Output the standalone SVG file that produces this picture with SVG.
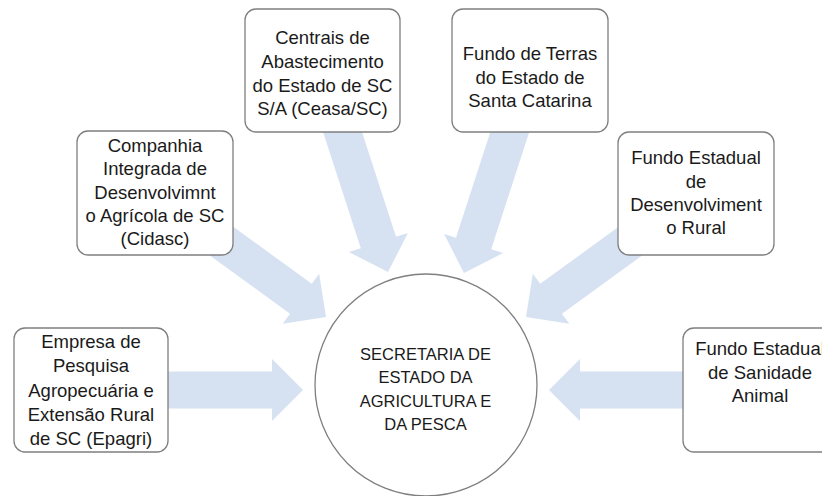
<svg xmlns="http://www.w3.org/2000/svg" width="822" height="496" viewBox="0 0 822 496">
<style>
.box{fill:#ffffff;stroke:#7f7f7f;stroke-width:1.3}
.t{font-family:"Liberation Sans",Arial,sans-serif;font-size:18.5px;fill:#1a1a1a;text-anchor:middle}
.c{font-family:"Liberation Sans",Arial,sans-serif;font-size:16.5px;fill:#1a1a1a;text-anchor:middle}
.arr{fill:#d6e2f2}
</style>
<defs>
<polygon id="blk" points="-160,-18.5 -31,-18.5 -31,-31 0,0 -31,31 -31,18.5 -160,18.5"/>
</defs>
<g id="connectors">
<use href="#blk" class="arr" transform="translate(303,390)"/>
<use href="#blk" class="arr" transform="translate(549,390) rotate(180)"/>
<use href="#blk" class="arr" transform="translate(326,317) rotate(36)"/>
<use href="#blk" class="arr" transform="translate(526,317) rotate(144)"/>
<use href="#blk" class="arr" transform="translate(388,272) rotate(72)"/>
<use href="#blk" class="arr" transform="translate(464,273) rotate(108)"/>
</g>
<g id="epagri">
<rect class="box" x="14" y="328" width="154" height="124" rx="11"/>
<text class="t" x="91" y="348">Empresa de</text>
<text class="t" x="91" y="372">Pesquisa</text>
<text class="t" x="91" y="397">Agropecuária e</text>
<text class="t" x="91" y="421">Extensão Rural</text>
<text class="t" x="91" y="445">de SC (Epagri)</text>
</g>
<g id="cidasc">
<rect class="box" x="77" y="131" width="156" height="124" rx="11"/>
<text class="t" x="155" y="152">Companhia</text>
<text class="t" x="155" y="175">Integrada de</text>
<text class="t" x="155" y="199">Desenvolvimnt</text>
<text class="t" x="155" y="222">o Agrícola de SC</text>
<text class="t" x="155" y="245">(Cidasc)</text>
</g>
<g id="ceasa">
<rect class="box" x="245" y="9" width="155" height="123" rx="11"/>
<text class="t" x="322.5" y="44">Centrais de</text>
<text class="t" x="322.5" y="68">Abastecimento</text>
<text class="t" x="322.5" y="92">do Estado de SC</text>
<text class="t" x="322.5" y="115">S/A (Ceasa/SC)</text>
</g>
<g id="fundo-terras">
<rect class="box" x="452" y="9" width="156" height="123" rx="11"/>
<text class="t" x="530" y="60">Fundo de Terras</text>
<text class="t" x="530" y="84">do Estado de</text>
<text class="t" x="530" y="107">Santa Catarina</text>
</g>
<g id="fundo-rural">
<rect class="box" x="618" y="132" width="156" height="123" rx="11"/>
<text class="t" x="696" y="164">Fundo Estadual</text>
<text class="t" x="696" y="188">de</text>
<text class="t" x="696" y="211">Desenvolviment</text>
<text class="t" x="696" y="234">o Rural</text>
</g>
<g id="fundo-sanidade">
<rect class="box" x="683" y="328" width="156" height="124" rx="11"/>
<text class="t" x="760" y="355">Fundo Estadual</text>
<text class="t" x="760" y="379">de Sanidade</text>
<text class="t" x="760" y="402">Animal</text>
</g>
<g id="secretaria">
<circle cx="426" cy="385" r="111" fill="#ffffff" stroke="#7f7f7f" stroke-width="1.3"/>
<text class="c" x="425.5" y="360">SECRETARIA DE</text>
<text class="c" x="425.5" y="383">ESTADO DA</text>
<text class="c" x="425.5" y="407">AGRICULTURA E</text>
<text class="c" x="425.5" y="430">DA PESCA</text>
</g>
</svg>
